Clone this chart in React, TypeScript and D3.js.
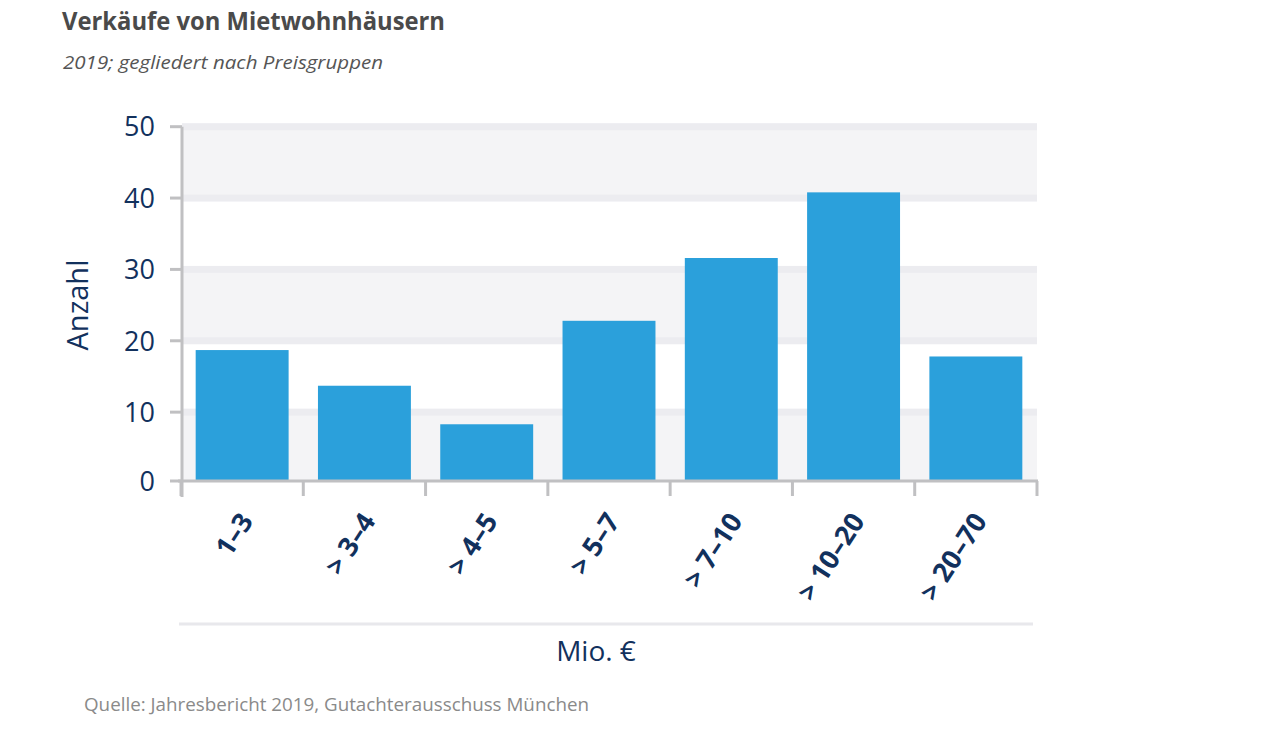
import React, { useRef, useEffect } from 'react';
import * as d3 from 'd3';

// Preisgruppen (Mio. €) und Anzahl der Verkäufe
const categories = ['1–3', '> 3–4', '> 4–5', '> 5–7', '> 7–10', '> 10–20', '> 20–70'];
const counts = [18.7, 13.7, 8.3, 22.8, 31.6, 40.8, 17.8];
const yTicks = [0, 10, 20, 30, 40, 50];

const W = 1275;
const H = 731;
const NAVY = '#12315d';
const BAR = '#2ba0db';
const AXIS = '#c0c0c2';
const FONT = "'Open Sans', 'Noto Sans', sans-serif";

export default function App() {
  const ref = useRef<SVGSVGElement | null>(null);

  useEffect(() => {
    if (!ref.current) return;
    const svg = d3.select(ref.current);
    svg.selectAll('*').remove();

    const x = d3.scaleBand<string>()
      .domain(categories)
      .range([181, 1037])
      .paddingInner(0.24)
      .paddingOuter(0.12);
    const y = d3.scaleLinear().domain([0, 50]).range([483.5, 126.7]);

    svg.append('rect').attr('width', W).attr('height', H).attr('fill', '#ffffff');

    // title + subtitle
    svg.append('text')
      .attr('x', 62).attr('y', 30)
      .attr('font-family', FONT).attr('font-weight', 700).attr('font-size', 25)
      .attr('fill', '#4a4a4a')
      .attr('textLength', 383).attr('lengthAdjust', 'spacingAndGlyphs')
      .text('Verkäufe von Mietwohnhäusern');
    svg.append('text')
      .attr('x', 63).attr('y', 69)
      .attr('font-family', FONT).attr('font-style', 'italic').attr('font-size', 19)
      .attr('fill', '#555555')
      .attr('textLength', 320).attr('lengthAdjust', 'spacingAndGlyphs')
      .text('2019; gegliedert nach Preisgruppen');

    // alternating background bands
    const plotL = 182;
    const plotR = 1037;
    const axisY = y(0) - 2.5;
    for (let i = 0; i < yTicks.length - 1; i += 2) {
      const bottom = i === 0 ? axisY : y(yTicks[i]);
      svg.append('rect')
        .attr('x', plotL).attr('width', plotR - plotL)
        .attr('y', y(yTicks[i + 1])).attr('height', bottom - y(yTicks[i + 1]))
        .attr('fill', '#f4f4f6');
    }
    // grid stripes
    svg.append('g').selectAll('rect')
      .data(yTicks.filter(d => d > 0))
      .join('rect')
      .attr('x', plotL).attr('width', plotR - plotL)
      .attr('y', d => y(d) - 3.5).attr('height', 7)
      .attr('fill', '#ececf0');

    // bars (stop at the axis line)
    svg.append('g').selectAll('rect')
      .data(counts)
      .join('rect')
      .attr('x', (_d, i) => x(categories[i])!)
      .attr('width', x.bandwidth())
      .attr('y', d => y(d))
      .attr('height', d => axisY - y(d))
      .attr('fill', BAR);

    // y axis
    svg.append('line')
      .attr('x1', plotL).attr('x2', plotL).attr('y1', y(50)).attr('y2', 497)
      .attr('stroke', AXIS).attr('stroke-width', 3);
    svg.append('g').selectAll('line')
      .data(yTicks)
      .join('line')
      .attr('x1', 170).attr('x2', plotL)
      .attr('y1', d => (d === 0 ? axisY : y(d))).attr('y2', d => (d === 0 ? axisY : y(d)))
      .attr('stroke', AXIS).attr('stroke-width', 3);
    svg.append('g').selectAll('text')
      .data(yTicks)
      .join('text')
      .attr('x', 155)
      .attr('y', d => (d === 0 ? axisY : y(d)))
      .attr('dy', '0.36em')
      .attr('text-anchor', 'end')
      .attr('font-family', FONT).attr('font-size', 27)
      .attr('fill', NAVY)
      .text(d => String(d));
    svg.append('text')
      .attr('transform', `translate(88,305) rotate(-90)`)
      .attr('text-anchor', 'middle')
      .attr('font-family', FONT).attr('font-size', 29)
      .attr('fill', NAVY)
      .text('Anzahl');

    // x axis
    svg.append('line')
      .attr('x1', 178).attr('x2', plotR + 1).attr('y1', axisY).attr('y2', axisY)
      .attr('stroke', AXIS).attr('stroke-width', 3);
    const bounds = categories.map(c => x(c)! - (x.step() - x.bandwidth()) / 2).concat([plotR]);
    svg.append('g').selectAll('line')
      .data(bounds)
      .join('line')
      .attr('x1', d => d).attr('x2', d => d)
      .attr('y1', axisY).attr('y2', 496)
      .attr('stroke', AXIS).attr('stroke-width', 3);
    svg.append('g').selectAll('text')
      .data(categories)
      .join('text')
      .attr('transform', d => `translate(${x(d)! + x.bandwidth() / 2 + 12},${521}) rotate(-57)`)
      .attr('text-anchor', 'end')
      .attr('font-family', FONT).attr('font-weight', 700).attr('font-size', 27)
      .attr('fill', NAVY)
      .text(d => d);

    // separator + x title
    svg.append('line')
      .attr('x1', 179).attr('x2', 1033).attr('y1', 624).attr('y2', 624)
      .attr('stroke', '#e8e8ec').attr('stroke-width', 3);
    svg.append('text')
      .attr('x', 596).attr('y', 661)
      .attr('text-anchor', 'middle')
      .attr('font-family', FONT).attr('font-size', 28)
      .attr('fill', NAVY)
      .text('Mio. €');

    // source
    svg.append('text')
      .attr('x', 84).attr('y', 711)
      .attr('font-family', FONT).attr('font-size', 19)
      .attr('fill', '#8a8a8a')
      .attr('textLength', 505).attr('lengthAdjust', 'spacingAndGlyphs')
      .text('Quelle: Jahresbericht 2019, Gutachterausschuss München');
  }, []);

  return (
    <svg
      ref={ref}
      width={W}
      height={H}
      style={{ position: 'absolute', left: 0, top: 0 }}
      aria-label="Verkäufe von Mietwohnhäusern"
    />
  );
}
